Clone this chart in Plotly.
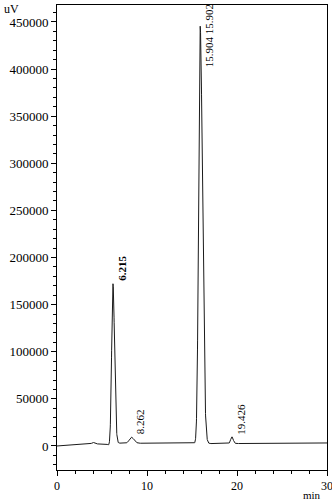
import numpy as np
import plotly.graph_objects as go

# ---- data ----
peak_times = [4.0, 5.75, 6.215, 8.262, 15.904, 19.426]
peak_heights = [1800, -1800, 169500, 6400, 443000, 7200]
peak_sigma_left = [0.15, 0.15, 0.14, 0.22, 0.17, 0.13]
peak_sigma_right = [0.15, 0.15, 0.18, 0.28, 0.26, 0.15]

baseline_times = [0, 4, 7, 12, 18, 25, 30]
baseline_values = [0, 2000, 3000, 2800, 2500, 2800, 3200]

label_texts = ["<b>6.215</b>", "8.262", "15.904 15.902", "19.426"]
label_times = [6.215, 8.262, 15.904, 19.426]
label_values = [189000, 25500, 435000, 28700]

x_ticks = [0, 10, 20, 30]
y_ticks = [0, 50000, 100000, 150000, 200000, 250000, 300000, 350000, 400000, 450000]

# ---- build signal ----
t = np.arange(0, 30.0001, 0.01)
signal = np.interp(t, baseline_times, baseline_values)
for rt, h, sl, sr in zip(peak_times, peak_heights, peak_sigma_left, peak_sigma_right):
    s = np.where(t < rt, sl, sr)
    signal = signal + h * np.exp(-0.5 * ((t - rt) / s) ** 2)

font = "Liberation Serif, Times New Roman, serif"

fig = go.Figure()
fig.add_trace(go.Scatter(x=t, y=signal, mode="lines",
                         line=dict(color="#1a1a1a", width=1), hoverinfo="skip"))

for txt, lt, lv in zip(label_texts, label_times, label_values):
    fig.add_annotation(x=lt, y=lv, text=txt, textangle=-90, showarrow=False,
                       xanchor="center", yanchor="middle", xshift=9,
                       font=dict(family=font, size=11, color="black"))

fig.add_annotation(xref="paper", yref="paper", x=-0.167, y=0.992, text="uV",
                   showarrow=False, xanchor="center", yanchor="middle",
                   font=dict(family=font, size=12, color="black"))
fig.add_annotation(xref="paper", yref="paper", x=0.946, y=-0.054, text="min",
                   showarrow=False, xanchor="center", yanchor="middle",
                   font=dict(family=font, size=11, color="black"))

axis_common = dict(showline=True, linecolor="black", linewidth=1, mirror=True,
                   ticks="outside", ticklen=5, tickcolor="black", showgrid=False,
                   zeroline=False, ticklabeloverflow="allow", automargin=False)

fig.update_xaxes(range=[0, 30], tickvals=x_ticks,
                 tickfont=dict(family=font, size=12, color="black"),
                 minor=dict(dtick=2, ticks="outside", ticklen=3, tickcolor="black", showgrid=False),
                 **axis_common)
fig.update_yaxes(range=[-25500, 468000], tickvals=y_ticks, tickformat="d",
                 tickfont=dict(family=font, size=13, color="black"),
                 minor=dict(dtick=10000, ticks="outside", ticklen=3, tickcolor="black", showgrid=False),
                 **axis_common)

fig.update_layout(width=332, height=504, margin=dict(l=57, r=5, t=5, b=34, autoexpand=False),
                  paper_bgcolor="white", plot_bgcolor="white", showlegend=False)

fig.write_html("out.html")
